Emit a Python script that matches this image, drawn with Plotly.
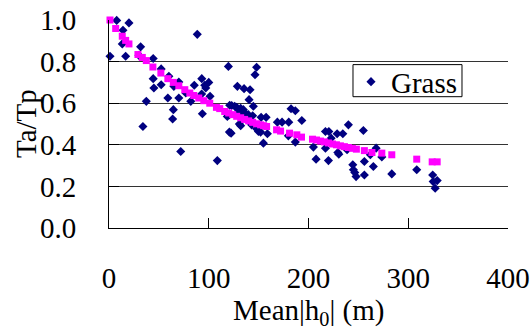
import plotly.graph_objects as go

# Observed data (blue diamonds, "Grass")
grass_x = [7.7, 20, 14, 13.3, 16.7, 1, 31.7, 30, 44.3, 52.3, 44.3, 45, 52.3, 60, 59, 65, 70, 70,
           64.5, 63.8, 37.4, 34, 71.9, 82, 77, 85.5, 88.5, 93, 96, 97, 100, 92.9, 101.3, 93.6,
           108.6, 119.7, 128.7, 135.4, 141.4, 148, 146.4, 140.4, 144.7, 123, 126, 129.7, 118.6,
           120.6, 134.7, 136.4, 139.7, 130.7, 132, 120.7, 122.4, 143, 152.5, 157.5, 148, 149.8,
           152, 158.8, 154.8, 168.8, 182.5, 186.8, 173.5, 180.2, 193.3, 179.8, 186.8, 204.9,
           207.6, 217, 220.4, 222.7, 228.7, 234.4, 217, 220, 229.4, 230.4, 240, 238.7, 255,
           244.4, 245, 246.4, 247.7, 256, 256, 267.8, 262, 273.5, 265, 283.5, 308.5, 324.5,
           325, 329, 327, 121, 128, 132, 131, 134, 144]
grass_y = [0.998, 0.986, 0.951, 0.885, 0.826, 0.826, 0.871, 0.83, 0.815, 0.765, 0.718, 0.673,
           0.689, 0.729, 0.625, 0.681, 0.702, 0.625, 0.569, 0.524, 0.609, 0.488, 0.368, 0.609,
           0.649, 0.686, 0.931, 0.718, 0.686, 0.673, 0.70, 0.644, 0.633, 0.549, 0.324, 0.777,
           0.681, 0.67, 0.665, 0.773, 0.737, 0.617, 0.585, 0.589, 0.585, 0.569, 0.536, 0.545,
           0.569, 0.553, 0.545, 0.50, 0.492, 0.461, 0.456, 0.496, 0.532, 0.532, 0.477, 0.464,
           0.461, 0.453, 0.408, 0.509, 0.573, 0.564, 0.509, 0.509, 0.517, 0.443, 0.413, 0.389,
           0.331, 0.464, 0.464, 0.432, 0.453, 0.453, 0.384, 0.324, 0.363, 0.355, 0.496, 0.376,
           0.469, 0.304, 0.28, 0.267, 0.247, 0.255, 0.32, 0.384, 0.352, 0.341, 0.296, 0.26,
           0.28, 0.255, 0.223, 0.228, 0.191, 0.59, 0.58, 0.575, 0.56, 0.545, 0.54]

# Fitted values (magenta squares)
fit_x = [1, 6.7, 13.3, 16.7, 20, 29, 33.4, 37.4, 44, 52, 59, 64.5, 70, 76, 81, 85, 90, 95, 101,
         107.7, 111, 116, 120, 124, 128, 132, 136, 140, 144, 148, 152, 155, 158, 168, 172, 181,
         188.3, 193, 204, 208, 212, 216, 220, 224, 228, 232, 236, 240, 244, 248, 256, 263.6,
         273.5, 283.5, 308.5, 324, 329]
fit_y = [1.0, 0.959, 0.922, 0.902, 0.885, 0.834, 0.82, 0.805, 0.774, 0.745, 0.718, 0.70, 0.684,
         0.665, 0.649, 0.637, 0.625, 0.612, 0.60, 0.58, 0.574, 0.56, 0.553, 0.545, 0.537, 0.53,
         0.522, 0.515, 0.508, 0.501, 0.496, 0.492, 0.488, 0.472, 0.466, 0.456, 0.448, 0.437,
         0.427, 0.423, 0.418, 0.414, 0.409, 0.404, 0.4, 0.395, 0.391, 0.387, 0.383, 0.379,
         0.372, 0.363, 0.36, 0.352, 0.331, 0.318, 0.318]

y_ticks = [0.0, 0.2, 0.4, 0.6, 0.8, 1.0]
y_labels = ["0.0", "0.2", "0.4", "0.6", "0.8", "1.0"]
x_ticks = [0, 100, 200, 300, 400]
x_title = "Mean|h<sub>0</sub>| (m)"
y_title = "Ta/Tp"

FONT = "Liberation Serif, Times New Roman, serif"
FS = 29

fig = go.Figure()
fig.add_trace(go.Scatter(
    x=grass_x, y=grass_y, mode="markers", name="Grass", cliponaxis=False,
    marker=dict(symbol="diamond", size=7, color="#000080"),
))
fig.add_trace(go.Scatter(
    x=fit_x, y=fit_y, mode="markers", name="fit", showlegend=False, cliponaxis=False,
    marker=dict(symbol="square", size=7, color="#FF00FF"),
))

# legend frame
fig.add_shape(type="rect", xref="paper", yref="paper",
              x0=0.6115, x1=0.8847, y0=0.6313, y1=0.7855,
              line=dict(color="black", width=1), fillcolor="white", layer="below")

# axis titles
fig.add_annotation(text=y_title, xref="paper", yref="paper", x=-0.208, y=0.5,
                   xanchor="center", yanchor="middle", textangle=-90, showarrow=False,
                   font=dict(family=FONT, size=FS, color="black"))
fig.add_annotation(text=x_title, xref="paper", yref="paper", x=0.5, y=-0.405,
                   xanchor="center", yanchor="middle", showarrow=False,
                   font=dict(family=FONT, size=FS, color="black"))

fig.update_layout(
    width=531, height=330,
    margin=dict(l=109, r=23, t=20, b=102, autoexpand=False),
    paper_bgcolor="white", plot_bgcolor="white",
    font=dict(family=FONT, size=FS, color="black"),
    showlegend=True,
    legend=dict(
        x=0.6065, y=0.703, xanchor="left", yanchor="middle",
        bgcolor="rgba(0,0,0,0)", borderwidth=0,
        font=dict(family=FONT, size=FS, color="black"),
    ),
    xaxis=dict(
        range=[0, 400], tickvals=x_ticks, ticks="inside", ticklen=10, tickcolor="black",
        showline=True, linecolor="black", linewidth=1, showgrid=False, zeroline=False,
        automargin=False, ticklabelstandoff=24,
    ),
    yaxis=dict(
        range=[0, 1.0], tickvals=y_ticks, ticktext=y_labels, ticks="inside", ticklen=10,
        tickcolor="black", showline=True, linecolor="black", linewidth=1,
        showgrid=True, gridcolor="#333333", gridwidth=1, zeroline=False,
        automargin=False, ticklabelstandoff=26,
    ),
)

fig.write_html("out.html", config={"displayModeBar": False})

# remove default page margin so the figure sits at the window's top-left corner
with open("out.html", "r", encoding="utf-8") as f:
    html = f.read()
html = html.replace("<body>", '<body style="margin:0;padding:0;overflow:hidden;">', 1)
with open("out.html", "w", encoding="utf-8") as f:
    f.write(html)
